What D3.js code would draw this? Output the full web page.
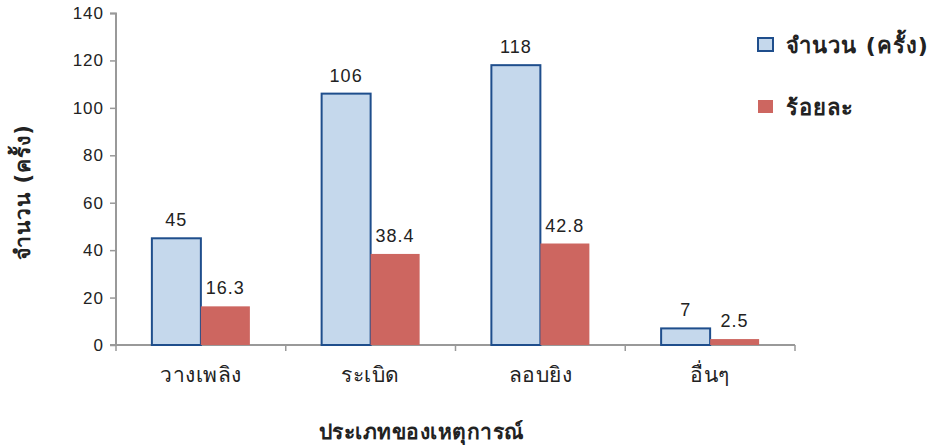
<!DOCTYPE html>
<html>
<head>
<meta charset="utf-8">
<script src="https://cdn.jsdelivr.net/npm/d3@7"></script>
<style>
  body { margin: 0; background: #fff; }
  svg text { font-family: "Liberation Sans", Arial, sans-serif; }
  .thai { font-family: "DejaVu Sans", "Noto Sans", sans-serif; }
</style>
</head>
<body>
<svg id="chart" width="930" height="447"></svg>
<script>
// Incident categories and two series: count (times) and percentage
const categories = ["วางเพลิง", "ระเบิด", "ลอบยิง", "อื่นๆ"];
const countValues = [45, 106, 118, 7];
const percentValues = [16.3, 38.4, 42.8, 2.5];
const seriesNames = ["จำนวน (ครั้ง)", "ร้อยละ"];
const yTicks = [0, 20, 40, 60, 80, 100, 120, 140];

const svg = d3.select("#chart");
const margin = { left: 116, right: 135, top: 13, bottom: 102 };
const W = 930, H = 447;
const innerW = W - margin.left - margin.right;
const innerH = H - margin.top - margin.bottom;

const g = svg.append("g").attr("transform", `translate(${margin.left},${margin.top})`);

const x = d3.scaleBand().domain(categories).range([0, innerW]).paddingInner(0).paddingOuter(0);
const barW = 49;
const y = d3.scaleLinear().domain([0, 140]).range([innerH, 0]);

const axisColor = "#999";

// y axis
const yAxis = g.append("g").call(d3.axisLeft(y).tickValues(yTicks).tickSize(6).tickPadding(6));
yAxis.select(".domain").attr("stroke", axisColor).attr("stroke-width", 2)
  .attr("d", `M-6,0.5H0V${innerH}`);
yAxis.selectAll(".tick line").attr("stroke", axisColor).attr("stroke-width", 1.5);
yAxis.selectAll(".tick text").attr("fill", "#222").style("font-size", "17px")
  .style("letter-spacing", "1px")
  .style("font-family", "Liberation Sans, Arial, sans-serif");

// x axis
const xAxis = g.append("g").attr("transform", `translate(0,${innerH})`)
  .call(d3.axisBottom(x).tickSize(0).tickPadding(18));
xAxis.select(".domain").attr("stroke", axisColor).attr("stroke-width", 2)
  .attr("d", `M-6,0H${innerW}`);
xAxis.selectAll(".tick text").attr("class", "thai").attr("fill", "#222").style("font-size", "21px")
  .style("letter-spacing", "0.5px")
  .attr("dy", "0.9em");
// boundary ticks between categories
const bounds = [0, ...categories.map(c => x(c) + x.bandwidth())];
xAxis.selectAll(".bound").data(bounds).enter().append("line")
  .attr("x1", d => d).attr("x2", d => d).attr("y1", 0).attr("y2", 6)
  .attr("stroke", axisColor).attr("stroke-width", 1.5);

// bars
const groups = g.selectAll(".grp").data(categories).enter().append("g")
  .attr("transform", d => `translate(${x(d) + x.bandwidth() / 2},0)`);

groups.append("rect")
  .attr("x", -barW).attr("width", barW)
  .attr("y", (d, i) => y(countValues[i]))
  .attr("height", (d, i) => innerH - y(countValues[i]))
  .attr("fill", "#c5d8ec").attr("stroke", "#1f4e8c").attr("stroke-width", 2);

groups.append("rect")
  .attr("x", 0).attr("width", barW)
  .attr("y", (d, i) => y(percentValues[i]))
  .attr("height", (d, i) => innerH - y(percentValues[i]))
  .attr("fill", "#cd6660");

// value labels
groups.append("text")
  .attr("x", -barW / 2).attr("y", (d, i) => y(countValues[i]) - 12)
  .attr("text-anchor", "middle").attr("fill", "#222").style("font-size", "18px")
  .style("letter-spacing", "1px")
  .text((d, i) => countValues[i]);
groups.append("text")
  .attr("x", barW / 2).attr("y", (d, i) => y(percentValues[i]) - 12)
  .attr("text-anchor", "middle").attr("fill", "#222").style("font-size", "18px")
  .style("letter-spacing", "1px")
  .text((d, i) => percentValues[i]);

// axis titles
svg.append("text").attr("class", "thai")
  .attr("x", 421).attr("y", 439)
  .attr("text-anchor", "middle").attr("fill", "#222")
  .style("font-size", "21px").style("font-weight", "bold")
  .style("letter-spacing", "0.5px")
  .text("ประเภทของเหตุการณ์");

svg.append("text").attr("class", "thai")
  .attr("transform", `translate(30,192) rotate(-90)`)
  .attr("text-anchor", "middle").attr("fill", "#222")
  .style("font-size", "21px").style("font-weight", "bold")
  .style("letter-spacing", "1px")
  .text("จำนวน (ครั้ง)");

// legend
const legend = svg.append("g").attr("transform", "translate(758,38)");
const lg = legend.selectAll(".lg").data(seriesNames).enter().append("g")
  .attr("transform", (d, i) => `translate(0,${i * 62})`);
lg.append("rect").attr("width", 15).attr("height", 13)
  .attr("fill", (d, i) => i === 0 ? "#c5d8ec" : "#cd6660")
  .attr("stroke", (d, i) => i === 0 ? "#1f4e8c" : "none")
  .attr("stroke-width", 2);
lg.append("text").attr("class", "thai")
  .attr("x", 28).attr("y", 15)
  .attr("fill", "#222").style("font-size", "22px").style("font-weight", "bold")
  .style("letter-spacing", "1px")
  .text(d => d);
</script>
</body>
</html>
